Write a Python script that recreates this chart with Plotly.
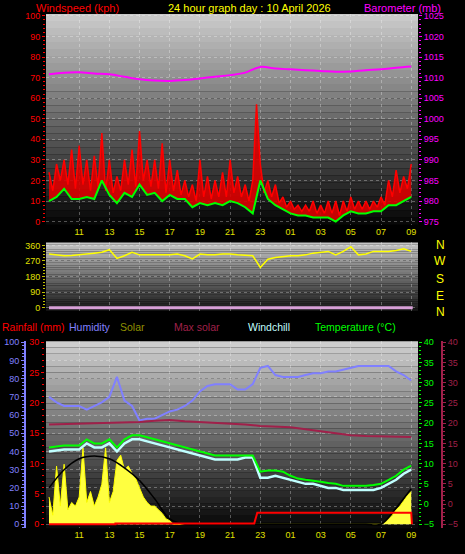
import numpy as np
import plotly.graph_objects as go

# ---------------- data ----------------
hours_half = list(np.arange(0, 24.01, 0.5))      # hours after 09:00
hours_q = list(np.arange(0, 24.01, 0.25))
hours_1 = list(range(0, 25))
tick_hours = [2, 4, 6, 8, 10, 12, 14, 16, 18, 20, 22, 24]
tick_labels = ["11", "13", "15", "17", "19", "21", "23", "01", "03", "05", "07", "09"]

wind_avg = [10,12,16,11,11,12,11,20,13,9,14,12,18,13,14,10,13,11,11,7,9,8,9,8,10,9,7,4,20,11,
            8,6,4,3,3,2,2,2,0,3,5,4,4,5,5,8,8,10,12]
gust_hi = [24,28,30,35,37,30,32,43,30,22,30,35,44,30,30,38,30,25,20,18,30,22,20,24,30,22,18,20,28,20,
           18,12,10,8,8,10,8,10,10,10,12,10,10,10,12,20,25,22,28]
gust_lo = [15,20,18,16,18,15,17,15,14,15,18,17,20,17,16,14,15,13,12,10,12,11,12,12,14,12,10,57,14,12,
           9,7,6,5,5,4,4,4,3,5,6,6,6,7,8,12,14,16]
baro = [1010.8,1011.2,1011.3,1011,1010.8,1010.2,1009.6,1009.3,1009.2,1009.4,1009.8,1010.2,1010.6,
        1011.2,1012.6,1012.2,1012,1011.8,1011.6,1011.4,1011.5,1011.8,1012,1012.4,1012.7]
wind_dir = [310,305,300,302,305,310,315,320,335,285,300,320,305,305,305,305,305,310,300,282,310,305,
            305,310,310,305,302,300,232,280,290,295,300,300,305,315,320,325,305,325,352,305,310,325,
            325,325,330,340,325]
humidity = [70,67,65,65,65,63,65,67,70,81,68,65,57,58,58,60,62,63,65,68,73,76,77,77,77,74,74,77,86,87,
            82,81,81,81,82,83,83,84,84,85,86,87,87,87,87,87,84,82,79]
temperature = [14,14.3,14.5,14.5,14.5,16,15,15,16,14,16,17,17,16.5,16,15.5,15,14.5,14,13.5,13,12.5,12,
               12,12,12,12,12,8,8.3,8.3,8,7,6.3,6,5.8,5.5,5.2,5,4.5,4.5,4.5,4.5,4.7,5,6,7,8.5,9.5]
windchill = [13,13.3,13.5,13.5,13.5,15,14,14,15,13,15,16,16,15.5,15,14.5,14,13.5,13,12.5,12,11.5,11,11,
             11,11,11.5,11.5,6.5,6.5,7,6.5,6,5.5,5,5,4.5,4,4,3.5,3.5,3.5,3.5,3.5,4,5,6,7.5,8.5]
max_solar_line = [19.7,19.8,19.9,20,20,20.1,20.3,20.6,20.8,20.5,20.3,20.1,19.9,19.7,19.3,19.2,19,18.5,
                  18,17.5,17,16.8,16.7,16.6,16.6]
solar_curve = [20,30,36,37.5,36,31,24,14,3,0,0,0,0,0,0,0,0,0,0,0,0,0,0,9,19.5]
solar = ([15,5,32,10,33,8,12,10,15,42,12,18,10,15,22,42,12,18,35,38,30,32,28,25,20,15,12,10,10,8,6,3,2,0]
         + [0]*54 + [0,1,3,5,8,10,13,16,18])
rain_t = [0, 4.4, 4.4, 13.6, 13.8, 24.0, 24.05]
rain_v = [0, 0, 0.15, 0.15, 1.9, 1.9, 0]

# ---------------- layout helpers ----------------
W, H = 465, 554
def px(x): return x / W
def py(y): return 1 - y / H

XL, XR = 46, 418
xdom = [px(XL), px(XR)]
top_dom = [py(223), py(10)]
mid_dom = [py(310), py(241)]
bot_dom = [py(530), py(341)]

fig = go.Figure()

gx, gy = [], []
for i in range(len(gust_hi)):
    gx.append(hours_half[i]); gy.append(gust_hi[i])
    if i < len(gust_lo):
        gx.append(hours_half[i] + 0.25); gy.append(gust_lo[i])

fig.add_trace(go.Scatter(x=hours_half, y=wind_avg, xaxis="x", yaxis="y", mode="lines",
                         line=dict(color="rgba(0,0,0,0)", width=0), showlegend=False))
fig.add_trace(go.Scatter(x=gx, y=gy, xaxis="x", yaxis="y", mode="lines", fill="tonexty",
                         fillcolor="rgba(220,0,0,0.9)", line=dict(color="#ff0000", width=1.5), showlegend=False))
fig.add_trace(go.Scatter(x=hours_half, y=wind_avg, xaxis="x", yaxis="y", mode="lines",
                         line=dict(color="#00ff00", width=2), showlegend=False))
fig.add_trace(go.Scatter(x=hours_1, y=baro, xaxis="x", yaxis="y2", mode="lines", line_shape="spline",
                         line=dict(color="#ff00ff", width=2), showlegend=False))

fig.add_trace(go.Scatter(x=[0, 24.1], y=[0, 0], xaxis="x2", yaxis="y3", mode="lines",
                         line=dict(color="#d8a0d8", width=3), showlegend=False))
fig.add_trace(go.Scatter(x=hours_half, y=wind_dir, xaxis="x2", yaxis="y3", mode="lines",
                         line=dict(color="#ffff00", width=1.5), showlegend=False))

fig.add_trace(go.Scatter(x=hours_q, y=solar, xaxis="x3", yaxis="y4", mode="lines", fill="tozeroy",
                         fillcolor="#ffff40", line=dict(color="#ffff00", width=1), showlegend=False))
fig.add_trace(go.Scatter(x=hours_1, y=solar_curve, xaxis="x3", yaxis="y4", mode="lines", line_shape="spline",
                         line=dict(color="#000000", width=1.5), showlegend=False))
fig.add_trace(go.Scatter(x=hours_half, y=humidity, xaxis="x3", yaxis="y4", mode="lines",
                         line=dict(color="#8080ff", width=2), showlegend=False))
fig.add_trace(go.Scatter(x=rain_t, y=rain_v, xaxis="x3", yaxis="y5", mode="lines",
                         line=dict(color="#ff0000", width=2), showlegend=False))
fig.add_trace(go.Scatter(x=hours_1, y=max_solar_line, xaxis="x3", yaxis="y7", mode="lines",
                         line=dict(color="#a0204a", width=2), showlegend=False))
fig.add_trace(go.Scatter(x=hours_half, y=windchill, xaxis="x3", yaxis="y6", mode="lines",
                         line=dict(color="#c0ffff", width=2.5), showlegend=False))
fig.add_trace(go.Scatter(x=hours_half, y=temperature, xaxis="x3", yaxis="y6", mode="lines",
                         line=dict(color="#00ff00", width=2), showlegend=False))

shapes = []
def grad(y0, y1, c_top, c_bot, n=30):
    for i in range(n):
        a = y0 + (y1 - y0) * i / n
        b = y0 + (y1 - y0) * (i + 1) / n
        t = (i + 0.5) / n
        c = int(c_top + (c_bot - c_top) * t)
        shapes.append(dict(type="rect", xref="paper", yref="paper", x0=px(XL), x1=px(XR),
                           y0=py(b), y1=py(a), fillcolor=f"rgb({c},{c},{c})", line=dict(width=0),
                           layer="below"))
grad(10, 223, 205, 5)
grad(241, 310, 200, 20)
grad(341, 530, 210, 5)

fnt = "Liberation Sans, Arial, sans-serif"
tickf = dict(family=fnt, size=9)
grid = dict(showgrid=True, gridcolor="rgba(255,255,255,0.3)", griddash="dot", gridwidth=1)

def xax(dom, anchor, labels):
    return dict(domain=dom, anchor=anchor, range=[-0.2, 24.45], tickvals=tick_hours,
                ticktext=tick_labels, showticklabels=labels, tickfont=dict(tickf, color="#e0e000"),
                ticks="", zeroline=False, **grid)

fig.update_layout(
    width=W, height=H, margin=dict(l=0, r=0, t=0, b=0),
    paper_bgcolor="black", plot_bgcolor="rgba(0,0,0,0)", shapes=shapes,
    xaxis=xax(xdom, "y", True),
    xaxis2=xax(xdom, "y3", False),
    xaxis3=xax(xdom, "y4", True),
    yaxis=dict(domain=top_dom, anchor="x", range=[-1.44, 100.96], dtick=10, tickfont=dict(tickf, color="#ff0000"),
               ticks="outside", ticklen=3, tickcolor="#ff0000", zeroline=False,
               minor=dict(dtick=2, ticks="outside", ticklen=2, tickcolor="#ff0000"), **grid),
    yaxis2=dict(overlaying="y", side="right", anchor="x", range=[974.28, 1025.48], dtick=5,
                tickfont=dict(tickf, color="#ff00ff"), ticks="outside", ticklen=3, tickcolor="#ff00ff",
                minor=dict(dtick=1, ticks="outside", ticklen=2, tickcolor="#ff00ff"), showgrid=False, zeroline=False),
    yaxis3=dict(domain=mid_dom, anchor="x2", range=[-17.1, 377.1], tickvals=[0, 90, 180, 270, 360],
                tickfont=dict(tickf, color="#e0e000"), ticks="outside", ticklen=3, tickcolor="#c0c000",
                minor=dict(dtick=18, ticks="outside", ticklen=2, tickcolor="#c0c000"), zeroline=False, **grid),
    yaxis4=dict(domain=bot_dom, anchor="free", position=px(25), range=[-2.17, 100.54], dtick=10,
                tickfont=dict(tickf, color="#8080ff"), ticks="outside", ticklen=3, tickcolor="#8080ff",
                showline=True, linecolor="#8080ff", linewidth=2,
                minor=dict(dtick=2, ticks="outside", ticklen=2, tickcolor="#8080ff"), zeroline=False, **grid),
    yaxis5=dict(overlaying="y4", anchor="free", position=px(44), range=[-0.652, 30.163], dtick=5,
                tickfont=dict(tickf, color="#ff0000"), ticks="outside", ticklen=3, tickcolor="#ff0000",
                minor=dict(dtick=1, ticks="outside", ticklen=2, tickcolor="#ff0000"), showgrid=False, zeroline=False),
    yaxis6=dict(overlaying="y4", side="right", anchor="free", position=px(XR), range=[-5.98, 40.24], dtick=5,
                tickfont=dict(tickf, color="#00ff00"), ticks="outside", ticklen=3, tickcolor="#00ff00",
                minor=dict(dtick=1, ticks="outside", ticklen=2, tickcolor="#00ff00"), showgrid=False, zeroline=False),
    yaxis7=dict(overlaying="y4", side="right", anchor="free", position=px(442), range=[-5.98, 40.24], dtick=5,
                tickfont=dict(tickf, color="#a0204a"), ticks="outside", ticklen=3, tickcolor="#a0204a",
                showline=True, linecolor="#a0204a", linewidth=2,
                minor=dict(dtick=1, ticks="outside", ticklen=2, tickcolor="#a0204a"), showgrid=False, zeroline=False),
)

ann = []
def txt(x, y, s, color, size=11, anchor="left"):
    ann.append(dict(x=px(x), y=py(y), xref="paper", yref="paper", text=s, showarrow=False,
                    xanchor=anchor, yanchor="middle", font=dict(family=fnt, size=size, color=color)))
txt(34, 4, "Windspeed (kph)", "#ff0000")
txt(250, 4, "24 hour graph day : 10 April 2026", "#ffff00", anchor="center")
txt(443, 4, "Barometer (mb)", "#ff00ff", anchor="right")
for s, y in zip(["N", "W", "S", "E", "N"], [244, 260, 278, 295, 311]):
    txt(440, y, s, "#ffff00", size=12, anchor="center")
txt(0, 327, "Rainfall (mm)", "#ff0000", size=10.5)
txt(67, 327, "Humidity", "#8080ff", size=10.5)
txt(118, 327, "Solar", "#909000", size=10.5)
txt(172, 327, "Max solar", "#a0204a", size=10.5)
txt(246, 327, "Windchill", "#c0ffff", size=10.5)
txt(313, 327, "Temperature (°C)", "#00ff00", size=10.5)
fig.update_layout(annotations=ann)

fig.write_html("out.html", config={"displayModeBar": False})
with open("out.html", encoding="utf-8") as f:
    html = f.read()
html = html.replace("<head>", "<head><style>html,body{margin:0;padding:0;background:#000;overflow:hidden}</style>", 1)
with open("out.html", "w", encoding="utf-8") as f:
    f.write(html)
